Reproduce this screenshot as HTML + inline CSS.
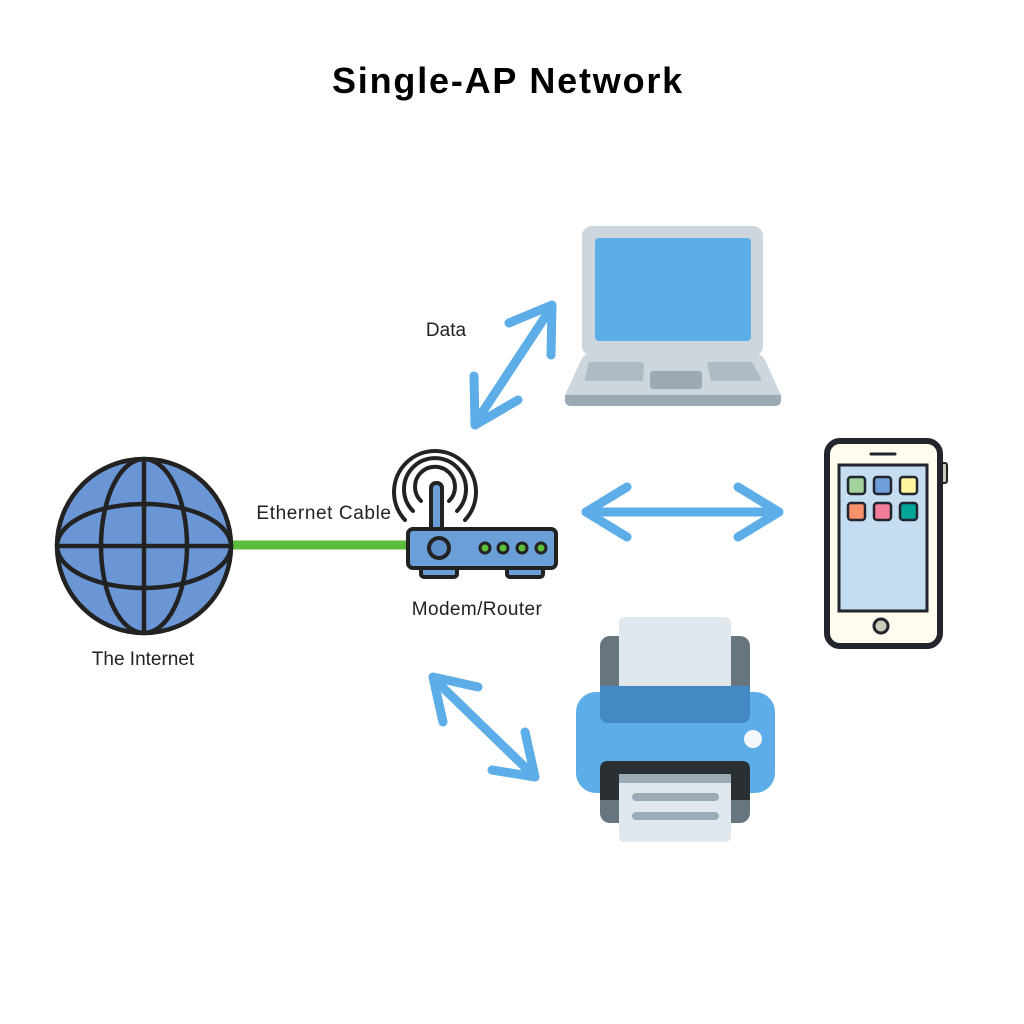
<!DOCTYPE html>
<html><head><style>
body{margin:0;background:#fff;}
svg{display:block;}
text{font-family:"Liberation Sans",sans-serif;}
</style></head><body>
<svg width="1024" height="1024" viewBox="0 0 1024 1024">
<rect width="1024" height="1024" fill="#fff"/>
<text x="508" y="93" text-anchor="middle" font-size="36" font-weight="bold" fill="#000" letter-spacing="1.8">Single-AP Network</text>

<!-- ethernet -->
<line x1="228" y1="545" x2="410" y2="545" stroke="#5bbd3b" stroke-width="9"/>

<!-- globe -->
<g stroke="#222" stroke-width="4.5" fill="none">
<circle cx="144" cy="546" r="87" fill="#6b96d6"/>
<ellipse cx="144" cy="546" rx="43" ry="87"/>
<ellipse cx="144" cy="546" rx="87" ry="42"/>
<line x1="144" y1="459" x2="144" y2="633"/>
<line x1="57" y1="546" x2="231" y2="546"/>
</g>
<text x="143" y="665" text-anchor="middle" font-size="19" fill="#222">The Internet</text>
<text x="324" y="519" text-anchor="middle" font-size="19" fill="#222" letter-spacing="0.6">Ethernet Cable</text>

<!-- router -->
<g stroke="#222" stroke-width="4" fill="none" stroke-linecap="round">
<path d="M421 501 A20 20 0 1 1 449 501"/>
<path d="M413 511 A31 31 0 1 1 457 511"/>
<path d="M405 520 A41 41 0 1 1 465 520"/>
<rect x="421" y="566" width="36" height="11" rx="3" fill="#6b9fd8"/>
<rect x="507" y="566" width="36" height="11" rx="3" fill="#6b9fd8"/>
<rect x="431" y="483" width="11" height="48" rx="5" fill="#6b9fd8"/>
<rect x="408" y="529" width="148" height="39" rx="5" fill="#6b9fd8"/>
<circle cx="439" cy="548" r="10" fill="#5b90cc"/>
<circle cx="485" cy="548" r="5" fill="#5bbd3b" stroke-width="3"/>
<circle cx="503" cy="548" r="5" fill="#5bbd3b" stroke-width="3"/>
<circle cx="522" cy="548" r="5" fill="#5bbd3b" stroke-width="3"/>
<circle cx="541" cy="548" r="5" fill="#5bbd3b" stroke-width="3"/>
</g>
<text x="477" y="615" text-anchor="middle" font-size="19" fill="#222" letter-spacing="0.4">Modem/Router</text>

<!-- arrows -->
<g stroke="#5dade8" stroke-width="9" fill="none" stroke-linecap="round" stroke-linejoin="round">
<line x1="476" y1="422" x2="551" y2="308"/>
<polyline points="509,323 552,305 551,355"/>
<polyline points="474,376 475,425 518,400"/>
<line x1="586" y1="512" x2="777" y2="512"/>
<polyline points="627,487 586,512 627,537"/>
<polyline points="738,487 779,512 738,537"/>
<line x1="435" y1="680" x2="532" y2="774"/>
<polyline points="478,687 433,677 443,722"/>
<polyline points="492,770 535,777 525,732"/>
</g>
<text x="446" y="336" text-anchor="middle" font-size="19" fill="#222">Data</text>

<!-- laptop -->
<rect x="582" y="226" width="181" height="130" rx="10" fill="#cdd6dd"/>
<rect x="595" y="238" width="156" height="103" rx="4" fill="#5dade8"/>
<path d="M590 354 L756 354 Q762 354 765 360 L781 395 L565 395 L581 360 Q584 354 590 354Z" fill="#cdd6dd"/>
<path d="M565 395 L781 395 L781 400 Q781 406 775 406 L571 406 Q565 406 565 400Z" fill="#9aa9b3"/>
<path d="M589 362 L640 362 Q644 362 644 366 L643 381 L586 381 Q584 381 585 378Z" fill="#afbbc2"/>
<path d="M707 362 L752 362 L761 378 Q762 381 759 381 L711 381Z" fill="#afbbc2"/>
<rect x="650" y="371" width="52" height="18" rx="3" fill="#9aa9b3"/>

<!-- phone -->
<rect x="940" y="463" width="7" height="20" rx="2" fill="#cfcbbb" stroke="#222" stroke-width="2"/>
<rect x="827" y="441" width="113" height="205" rx="13" fill="#fffcee" stroke="#22252d" stroke-width="6"/>
<rect x="839" y="465" width="88" height="146" fill="#c5ddf1" stroke="#22252d" stroke-width="3"/>
<line x1="871" y1="454" x2="895" y2="454" stroke="#22252d" stroke-width="3" stroke-linecap="round"/>
<circle cx="881" cy="626" r="7" fill="#cfcbbb" stroke="#22252d" stroke-width="3"/>
<g stroke="#22252d" stroke-width="2.5">
<rect x="848" y="477" width="17" height="17" rx="3" fill="#a3d39c"/>
<rect x="874" y="477" width="17" height="17" rx="3" fill="#6f9fd8"/>
<rect x="900" y="477" width="17" height="17" rx="3" fill="#fff59d"/>
<rect x="848" y="503" width="17" height="17" rx="3" fill="#f6926b"/>
<rect x="874" y="503" width="17" height="17" rx="3" fill="#f27c9a"/>
<rect x="900" y="503" width="17" height="17" rx="3" fill="#00a59a"/>
</g>

<!-- printer -->
<rect x="600" y="636" width="150" height="187" rx="10" fill="#67757f"/>
<rect x="576" y="692" width="199" height="101" rx="20" fill="#5dade8"/>
<rect x="600" y="686" width="150" height="37" rx="8" fill="#4389c4"/>
<rect x="600" y="686" width="150" height="10" fill="#4389c4"/>
<path d="M625 617 L725 617 Q731 617 731 623 L731 686 L619 686 L619 623 Q619 617 625 617Z" fill="#e1e8ed"/>
<circle cx="753" cy="739" r="9" fill="#f5f8fa"/>
<path d="M608 761 L742 761 Q750 761 750 769 L750 800 L600 800 L600 769 Q600 761 608 761Z" fill="#292f33"/>
<path d="M619 774 L731 774 L731 836 Q731 842 725 842 L625 842 Q619 842 619 836Z" fill="#e1e8ed"/>
<rect x="619" y="774" width="112" height="9" fill="#9aabb5"/>
<rect x="632" y="793" width="87" height="8" rx="4" fill="#9aabb5"/>
<rect x="632" y="812" width="87" height="8" rx="4" fill="#9aabb5"/>
</svg>
</body></html>
